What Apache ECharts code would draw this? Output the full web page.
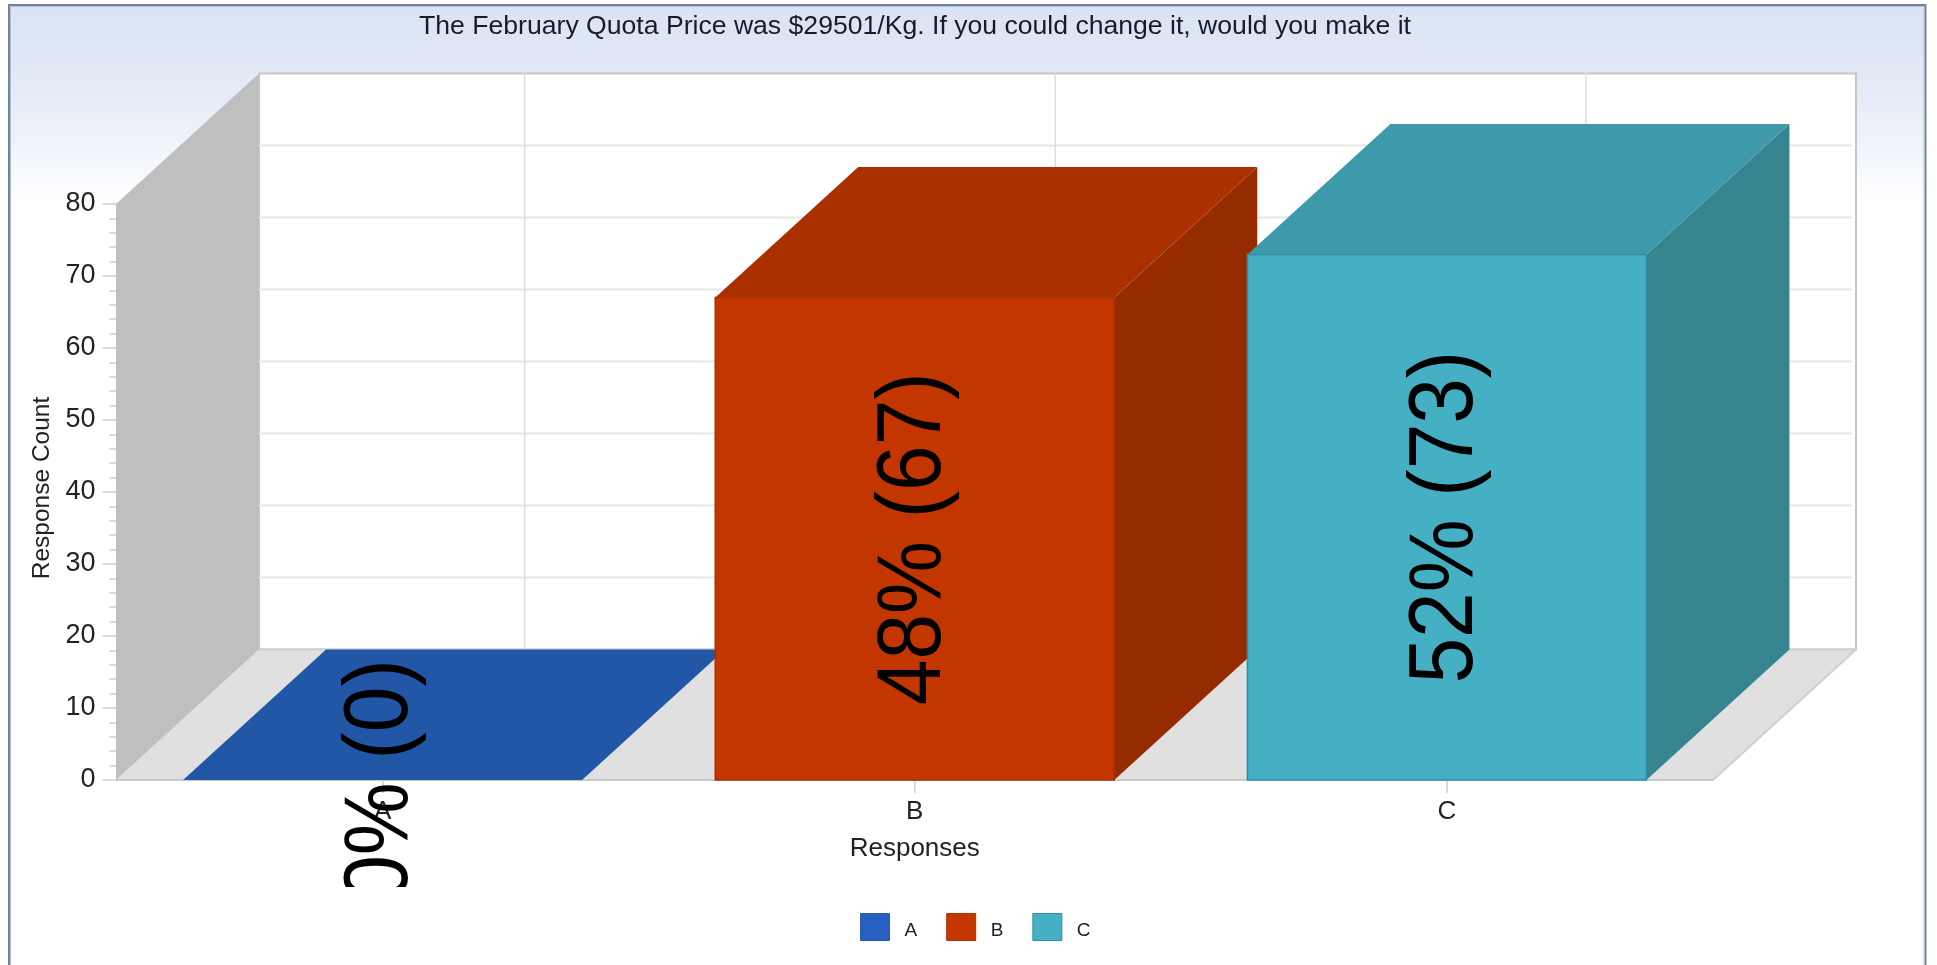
<!DOCTYPE html>
<html><head><meta charset="utf-8">
<style>html,body{margin:0;padding:0;background:#fff}#c{width:1937px;height:965px}</style>
<script src="https://cdn.jsdelivr.net/npm/echarts@6/dist/echarts.min.js"></script>
</head><body><div id="c"></div>
<script>
const titleText = 'The February Quota Price was $29501/Kg. If you could change it, would you make it';
const categories = ['A', 'B', 'C'];
const responseCounts = [0, 67, 73];
const yTicks = [0, 10, 20, 30, 40, 50, 60, 70, 80];
const frontColors = ['#2257a7', '#c43600', '#45afc3'];
const topColors = ['#2257a7', '#ab3000', '#3e9aaa'];
const sideColors = ['#1c4a8d', '#962b00', '#368490'];
const edgeColors = ['#2257a7', '#a83000', '#338d9e'];
const legendColors = ['#2560c0', '#c43600', '#45afc3'];
const legendEdges = ['#2a5ca8', '#b33200', '#338d9e'];

const DX = 143, DY = -130.5, BAR = 399;
const total = responseCounts.reduce((a, b) => a + b, 0);

function poly(points, fill, stroke, lw) {
  return {type: 'polygon', shape: {points}, style: {fill, stroke: stroke || null, lineWidth: lw || 0}, silent: true};
}
function seg(x1, y1, x2, y2, stroke, lw) {
  return {type: 'line', shape: {x1, y1, x2, y2}, style: {stroke, lineWidth: lw || 1.5}, silent: true};
}

function renderWalls(params, api) {
  const cs = params.coordSys;
  const L = cs.x - 0.5, R = cs.x + cs.width, B = cs.y + cs.height, T = cs.y;
  const kids = [];
  kids.push({type: 'rect', shape: {x: L + DX, y: T + DY, width: R - L, height: B - T},
    style: {fill: '#fff', stroke: '#c6c6c6', lineWidth: 2}, silent: true});
  yTicks.forEach(t => {
    const y = api.coord([0, t])[1];
    if (t > 0 && t < 80) kids.push(seg(L + DX, y + DY, R + DX - 4, y + DY, '#e6e6e6', 2));
  });
  categories.forEach((c, i) => {
    const x = api.coord([i, 0])[0] + DX - 1 - i * 1.5;
    kids.push(seg(x, T + DY, x, B + DY, '#dedede', 1.5));
  });
  kids.push(poly([[L, B], [R, B], [R + DX, B + DY], [L + DX, B + DY]], '#e0e0e0'));
  kids.push(seg(R, B, R + DX, B + DY, '#cfcfcf', 2));
  kids.push(seg(L, B, R, B, '#c8c8c8', 2));
  kids.push(seg(L + DX, B + DY, R + DX, B + DY, '#cfcfcf', 2));
  kids.push(poly([[L, T], [L + DX, T + DY], [L + DX, B + DY], [L, B]], '#bfbfbf'));
  yTicks.forEach(t => {
    const y = api.coord([0, t])[1];
    if (t > 0 && t < 80) kids.push(seg(L, y, L + DX - 1, y + DY, '#c3c3c3', 1));
  });
  return {type: 'group', children: kids};
}

function renderBar(idx) {
  return function (params, api) {
    const base = api.coord([idx, 0]);
    const top = api.coord([idx, api.value(1)]);
    const x0 = base[0] - BAR / 2, x1 = base[0] + BAR / 2, y0 = base[1], y1 = top[1];
    const kids = [];
    const v = api.value(1);
    if (v > 0) {
      kids.push(poly([[x1, y1], [x1 + DX, y1 + DY], [x1 + DX, y0 + DY], [x1, y0]], sideColors[idx]));
    }
    kids.push(poly([[x0, y1], [x1, y1], [x1 + DX, y1 + DY], [x0 + DX, y1 + DY]], topColors[idx]));
    if (v > 0) {
      kids.push({type: 'rect', shape: {x: x0, y: y1, width: BAR, height: y0 - y1},
        style: {fill: frontColors[idx], stroke: edgeColors[idx], lineWidth: 1.5}, silent: true});
    }
    const pct = Math.round(v / total * 100);
    kids.push({
      type: 'group', silent: true,
      clipPath: {type: 'rect', shape: {x: x0 - 100, y: 0, width: BAR + 400, height: 887}},
      children: [{
        type: 'text', x: base[0], y: (y0 + y1) / 2, rotation: Math.PI / 2, scaleX: 1, scaleY: 1.1,
        style: {text: pct + '% (' + v + ')', fill: '#000', font: '82px "Liberation Sans"',
          textAlign: 'center', textVerticalAlign: 'middle'}, silent: true
      }]
    });
    return {type: 'group', children: kids};
  };
}

const series = [{
  type: 'custom', name: 'walls', silent: true, z: 1, clip: false,
  renderItem: renderWalls, data: [[0, 0]], encode: {x: 0, y: 1}
}];
categories.forEach((c, i) => {
  series.push({
    type: 'custom', name: c, z: 3 + i, clip: false, silent: true,
    renderItem: renderBar(i),
    itemStyle: {color: legendColors[i]},
    data: [[i, responseCounts[i]]], encode: {x: 0, y: 1}
  });
});

const font = '"Liberation Sans"';
const chart = echarts.init(document.getElementById('c'), null, {renderer: 'canvas'});
chart.setOption({
  animation: false,
  backgroundColor: '#fff',
  graphic: [{
    type: 'rect', z: -10, silent: true,
    shape: {x: 9, y: 5, width: 1916.5, height: 975},
    style: {
      stroke: '#71859a', lineWidth: 2,
      fill: new echarts.graphic.LinearGradient(0, 0, 0, 1, [
        {offset: 0, color: '#d9e3f3'}, {offset: 0.08, color: '#e3eaf6'}, {offset: 0.14, color: '#eef2fa'}, {offset: 0.2, color: '#ffffff'}, {offset: 1, color: '#ffffff'}
      ])
    }
  }, {
    type: 'rect', z: -9, silent: true,
    shape: {x: 10.5, y: 6.5, width: 1913.5, height: 972},
    style: {stroke: '#b3c0cf', lineWidth: 1, fill: 'transparent'}
  }],
  title: {
    text: titleText, left: 910, top: 8, textAlign: 'center',
    textStyle: {fontFamily: font, fontSize: 26.6, fontWeight: 'normal', color: '#1a1a28'}
  },
  legend: {
    data: categories.map((c, i) => ({name: c, icon: 'rect',
      itemStyle: {color: legendColors[i], borderColor: legendEdges[i], borderWidth: 1}})),
    left: 860, top: 913, itemWidth: 29, itemHeight: 27, itemGap: 29, orient: 'horizontal',
    selectedMode: false, padding: 0,
    formatter: '{t|{name}}',
    textStyle: {fontFamily: font, fontSize: 19, color: '#222', padding: [0, 0, 0, 10],
      rich: {t: {fontFamily: font, fontSize: 19, color: '#222', padding: [8, 0, 0, 0]}}}
  },
  grid: {left: 116.5, right: 1937 - 1713, top: 204, bottom: 965 - 780, containLabel: false},
  xAxis: {
    type: 'category', data: categories,
    name: 'Responses', nameLocation: 'middle', nameGap: 56,
    nameTextStyle: {fontFamily: font, fontSize: 26, color: '#222'},
    axisLine: {show: false},
    axisTick: {show: true, alignWithLabel: true, length: 13, lineStyle: {color: '#cfcfcf', width: 1.5}},
    axisLabel: {fontFamily: font, fontSize: 26, color: '#222', margin: 19}
  },
  yAxis: {
    type: 'value', min: 0, max: 80, interval: 10,
    name: 'Response Count', nameLocation: 'middle', nameGap: 61,
    nameTextStyle: {fontFamily: font, fontSize: 24.5, color: '#222', padding: [0, 0, 0, 8]},
    axisLine: {show: false},
    axisTick: {show: true, length: 14, lineStyle: {color: '#cfcfcf', width: 1.5}},
    minorTick: {show: true, splitNumber: 5, length: 7, lineStyle: {color: '#cfcfcf', width: 1.5}},
    splitLine: {show: false},
    axisLabel: {fontFamily: font, fontSize: 27, color: '#222', margin: 21}
  },
  series
});
</script></body></html>
